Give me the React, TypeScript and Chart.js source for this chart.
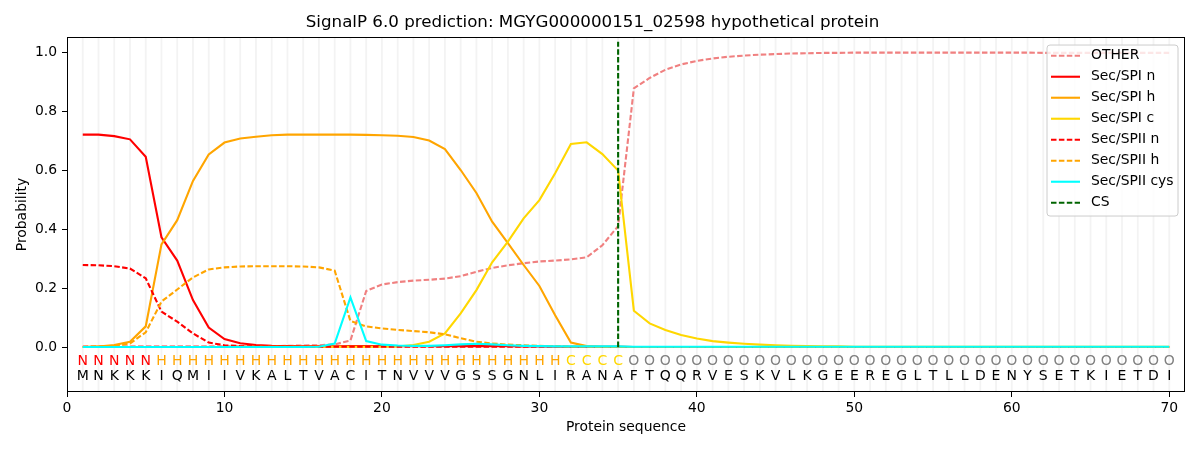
import { useEffect, useRef } from "react";
import { Chart, registerables } from "chart.js";

Chart.register(...registerables);

const sequence = "MNKKKIQMIIVKALTVACITNVVVGSSGNLIRANAFTQQRVESKVLKGEEREGLTLLDENYSETKIETDI".split("");
const regionLabels = ("NNNNN" + "HHHHHHHHHH" + "HHHHHHHHHH" + "HHHHHH" + "CCCC" +
  "OOOOOOOOOO" + "OOOOOOOOOO" + "OOOOOOOOOO" + "OOOOO").split("");
const positions = sequence.map((_, i) => i + 1);

const otherProb = [
  0.002, 0.002, 0.002, 0.002, 0.002, 0.002, 0.002, 0.002, 0.002, 0.002,
  0.002, 0.003, 0.003, 0.004, 0.005, 0.006, 0.009, 0.022, 0.19, 0.212,
  0.22, 0.225, 0.228, 0.232, 0.24, 0.255, 0.268, 0.277, 0.284, 0.29,
  0.293, 0.297, 0.304, 0.345, 0.41, 0.877, 0.912, 0.94, 0.958, 0.97,
  0.978, 0.984, 0.988, 0.991, 0.993, 0.995, 0.996, 0.997, 0.997, 0.998,
  0.998, 0.998, 0.998, 0.998, 0.998, 0.998, 0.998, 0.998, 0.998, 0.998,
  0.998, 0.997, 0.997, 0.997, 0.997, 0.997, 0.997, 0.997, 0.997, 0.997,
];
const spiN = [
  0.72, 0.72, 0.715, 0.704, 0.645, 0.372, 0.293, 0.159, 0.066, 0.027,
  0.013, 0.007, 0.004, 0.003, 0.002, 0.002, 0.002, 0.003, 0.003, 0.003,
  0.003, 0.003, 0.003, 0.003, 0.003, 0.004, 0.003, 0.003, 0.002, 0.002,
  0.001, 0.001, 0.001, 0.001, 0.001, 0, 0, 0, 0, 0,
  0, 0, 0, 0, 0, 0, 0, 0, 0, 0,
  0, 0, 0, 0, 0, 0, 0, 0, 0, 0,
  0, 0, 0, 0, 0, 0, 0, 0, 0, 0,
];
const spiH = [
  0, 0.002, 0.007, 0.018, 0.07, 0.348, 0.43, 0.563, 0.653, 0.693,
  0.707, 0.713, 0.718, 0.72, 0.72, 0.72, 0.72, 0.72, 0.719, 0.718,
  0.716, 0.712, 0.7, 0.671, 0.6, 0.522, 0.425, 0.352, 0.278, 0.207,
  0.108, 0.015, 0.003, 0.001, 0.001, 0, 0, 0, 0, 0,
  0, 0, 0, 0, 0, 0, 0, 0, 0, 0,
  0, 0, 0, 0, 0, 0, 0, 0, 0, 0,
  0, 0, 0, 0, 0, 0, 0, 0, 0, 0,
];
const spiC = [
  0, 0, 0, 0, 0, 0, 0, 0, 0, 0,
  0.001, 0.001, 0.001, 0.001, 0.001, 0.001, 0.001, 0.001, 0.001, 0.001,
  0.002, 0.007, 0.018, 0.046, 0.114, 0.193, 0.287, 0.357, 0.436, 0.498,
  0.589, 0.688, 0.694, 0.654, 0.598, 0.123, 0.08, 0.058, 0.041, 0.029,
  0.02, 0.015, 0.011, 0.008, 0.006, 0.004, 0.003, 0.002, 0.002, 0.001,
  0.001, 0.001, 0.001, 0.001, 0.001, 0.001, 0.001, 0.001, 0.001, 0.001,
  0.001, 0.001, 0.001, 0.001, 0.001, 0.001, 0.001, 0.001, 0.001, 0.001,
];
const spiiN = [
  0.278, 0.277, 0.274, 0.266, 0.233, 0.12, 0.086, 0.046, 0.015, 0.006,
  0.003, 0.002, 0.001, 0.001, 0.001, 0.001, 0.001, 0.001, 0.001, 0.001,
  0.001, 0.001, 0.001, 0.001, 0.001, 0.001, 0.001, 0.001, 0.001, 0.001,
  0.001, 0, 0, 0, 0, 0, 0, 0, 0, 0,
  0, 0, 0, 0, 0, 0, 0, 0, 0, 0,
  0, 0, 0, 0, 0, 0, 0, 0, 0, 0,
  0, 0, 0, 0, 0, 0, 0, 0, 0, 0,
];
const spiiH = [
  0, 0.001, 0.004, 0.012, 0.05, 0.154, 0.195, 0.236, 0.263, 0.27,
  0.273, 0.274, 0.274, 0.274, 0.273, 0.27, 0.259, 0.088, 0.07, 0.063,
  0.058, 0.054, 0.05, 0.043, 0.03, 0.018, 0.012, 0.008, 0.006, 0.004,
  0.003, 0.001, 0.001, 0, 0, 0, 0, 0, 0, 0,
  0, 0, 0, 0, 0, 0, 0, 0, 0, 0,
  0, 0, 0, 0, 0, 0, 0, 0, 0, 0,
  0, 0, 0, 0, 0, 0, 0, 0, 0, 0,
];
const spiiCys = [
  0, 0, 0, 0, 0, 0, 0, 0, 0, 0,
  0, 0, 0, 0, 0, 0.001, 0.012, 0.168, 0.02, 0.008,
  0.005, 0.004, 0.004, 0.006, 0.009, 0.011, 0.009, 0.006, 0.004, 0.003,
  0.002, 0.002, 0.002, 0.002, 0.002, 0.001, 0.001, 0.001, 0.001, 0.001,
  0.001, 0.001, 0.001, 0.001, 0.001, 0.001, 0.001, 0.001, 0.001, 0.001,
  0.001, 0.001, 0.001, 0.001, 0.001, 0.001, 0.001, 0.001, 0.001, 0.001,
  0.001, 0.001, 0.001, 0.001, 0.001, 0.001, 0.001, 0.001, 0.001, 0.001,
];
const csPosition = 35;
const csTop = 1.035;

const xTicks = [0, 10, 20, 30, 40, 50, 60, 70];
const yTicks = [0, 0.2, 0.4, 0.6, 0.8, 1.0];

const FONT = "'DejaVu Sans', sans-serif";
const DASH = [5.5, 2.4];

const series = [
  { label: "OTHER", data: otherProb, color: "#f08080", dashed: true },
  { label: "Sec/SPI n", data: spiN, color: "#ff0000", dashed: false },
  { label: "Sec/SPI h", data: spiH, color: "#ffa500", dashed: false },
  { label: "Sec/SPI c", data: spiC, color: "#ffd700", dashed: false },
  { label: "Sec/SPII n", data: spiiN, color: "#ff0000", dashed: true },
  { label: "Sec/SPII h", data: spiiH, color: "#ffa500", dashed: true },
  { label: "Sec/SPII cys", data: spiiCys, color: "#00ffff", dashed: false },
];
const legendItems = [
  ...series.map((s) => ({ label: s.label, color: s.color, dashed: s.dashed })),
  { label: "CS", color: "#006400", dashed: true },
];

const letterColors: Record<string, string> = {
  N: "#ff0000",
  H: "#ffa500",
  C: "#ffd700",
  O: "#808080",
};
const labelRowY = -0.0475;
const seqRowY = -0.098;

const decorPlugin = {
  id: "decor",
  beforeDatasetsDraw(chart: any) {
    const { ctx, chartArea, scales } = chart;
    ctx.save();
    ctx.strokeStyle = "#f3f3f3";
    ctx.lineWidth = 1.8;
    positions.forEach((p) => {
      const x = scales.x.getPixelForValue(p);
      ctx.beginPath();
      ctx.moveTo(x, chartArea.top);
      ctx.lineTo(x, chartArea.bottom);
      ctx.stroke();
    });
    ctx.restore();
  },
  afterDatasetsDraw(chart: any) {
    const { ctx, chartArea, scales } = chart;
    ctx.save();

    // residue letters and region labels
    ctx.font = `14px ${FONT}`;
    ctx.textAlign = "center";
    ctx.textBaseline = "middle";
    positions.forEach((p, i) => {
      const x = scales.x.getPixelForValue(p);
      ctx.fillStyle = letterColors[regionLabels[i]];
      ctx.fillText(regionLabels[i], x, scales.y.getPixelForValue(labelRowY));
      ctx.fillStyle = "#000000";
      ctx.fillText(sequence[i], x, scales.y.getPixelForValue(seqRowY));
    });

    // axes frame
    ctx.strokeStyle = "#000000";
    ctx.lineWidth = 1;
    ctx.strokeRect(
      Math.round(chartArea.left) + 0.5,
      Math.round(chartArea.top) + 0.5,
      Math.round(chartArea.right - chartArea.left) - 1,
      Math.round(chartArea.bottom - chartArea.top) - 1,
    );

    // legend
    const lx = chartArea.right - 138;
    const ly = chartArea.top + 8;
    ctx.beginPath();
    ctx.roundRect(lx, ly, 131, 171, 3);
    ctx.fillStyle = "rgba(255,255,255,0.8)";
    ctx.fill();
    ctx.strokeStyle = "#cccccc";
    ctx.stroke();
    ctx.font = `13.9px ${FONT}`;
    ctx.textAlign = "left";
    legendItems.forEach((item, i) => {
      const y = ly + 10.7 + i * 21;
      ctx.beginPath();
      ctx.setLineDash(item.dashed ? DASH : []);
      ctx.strokeStyle = item.color;
      ctx.lineWidth = 2.1;
      ctx.moveTo(lx + 4, y);
      ctx.lineTo(lx + 33, y);
      ctx.stroke();
      ctx.setLineDash([]);
      ctx.fillStyle = "#000000";
      ctx.fillText(item.label, lx + 44, y);
    });
    ctx.restore();
  },
};

function SignalPChart() {
  const canvasRef = useRef<HTMLCanvasElement | null>(null);

  useEffect(() => {
    const canvas = canvasRef.current;
    if (!canvas) return;

    const datasets: any[] = series.map((s, i) => ({
      label: s.label,
      data: s.data.map((v, j) => ({ x: positions[j], y: v })),
      borderColor: s.color,
      backgroundColor: s.color,
      borderWidth: 2.1,
      borderDash: s.dashed ? DASH : [],
      pointRadius: 0,
      tension: 0,
      fill: false,
      order: series.length + 1 - i,
    }));
    datasets.push({
      label: "CS",
      data: [
        { x: csPosition, y: 0 },
        { x: csPosition, y: csTop },
      ],
      borderColor: "#006400",
      borderWidth: 2.1,
      borderDash: DASH,
      pointRadius: 0,
      fill: false,
      order: 0,
    });

    const chart = new Chart(canvas, {
      type: "line",
      data: { datasets },
      plugins: [decorPlugin],
      options: {
        responsive: true,
        maintainAspectRatio: false,
        animation: false,
        layout: { padding: { left: 0, right: 15, top: 0, bottom: 0 } },
        plugins: {
          legend: { display: false },
          tooltip: { enabled: false },
          title: {
            display: true,
            text: "SignalP 6.0 prediction: MGYG000000151_02598 hypothetical protein",
            color: "#000000",
            font: { family: FONT, size: 16.7, weight: "normal" },
            padding: { top: 13, bottom: 4 },
          },
        },
        scales: {
          x: {
            type: "linear",
            min: 0,
            max: 71,
            afterBuildTicks: (scale: any) => {
              scale.ticks = xTicks.map((v) => ({ value: v }));
            },
            afterFit: (scale: any) => {
              scale.height = 58;
            },
            ticks: {
              color: "#000000",
              font: { family: FONT, size: 13.9 },
              padding: 3,
              maxRotation: 0,
              autoSkip: false,
            },
            grid: {
              drawOnChartArea: false,
              drawTicks: true,
              tickLength: 5,
              color: "#000000",
            },
            border: { display: false },
            title: {
              display: true,
              text: "Protein sequence",
              color: "#000000",
              font: { family: FONT, size: 13.9 },
              padding: { top: 0, bottom: 14 },
            },
          },
          y: {
            type: "linear",
            min: -0.1525,
            max: 1.0508,
            afterBuildTicks: (scale: any) => {
              scale.ticks = yTicks.map((v) => ({ value: v }));
            },
            afterFit: (scale: any) => {
              scale.width = 67;
            },
            ticks: {
              color: "#000000",
              font: { family: FONT, size: 13.9 },
              padding: 5,
              callback: (v: any) => Number(v).toFixed(1),
            },
            grid: {
              drawOnChartArea: false,
              drawTicks: true,
              tickLength: 5,
              color: "#000000",
            },
            border: { display: false },
            title: {
              display: true,
              text: "Probability",
              color: "#000000",
              font: { family: FONT, size: 13.9 },
              padding: { top: 14, bottom: 0 },
            },
          },
        },
      },
    });

    return () => {
      chart.destroy();
    };
  }, []);

  return (
    <div style={{ position: "fixed", left: 0, top: 0, width: 1200, height: 450, background: "#ffffff" }}>
      <canvas ref={canvasRef} />
    </div>
  );
}

export default function App() {
  return <SignalPChart />;
}
